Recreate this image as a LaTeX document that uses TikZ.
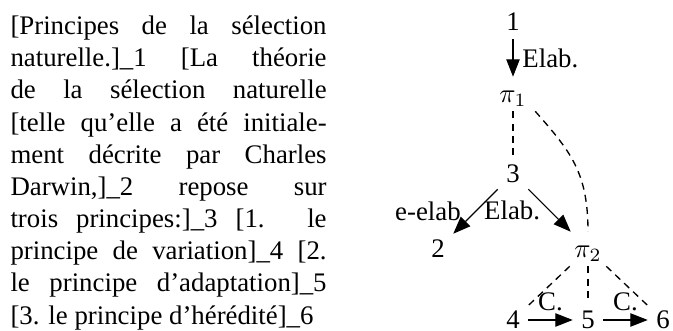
\documentclass[tikz,border=0pt]{standalone}
\usepackage{fontspec}
\setmainfont{Liberation Serif}
\usetikzlibrary{positioning,arrows.meta}

\begin{document}
\begin{tikzpicture}[x=0.373pt,y=0.373pt,font=\fontsize{10}{12}\selectfont,
  >={Triangle[length=6.5pt,width=5pt]},
  unit/.style={inner xsep=3pt,inner ysep=2pt,text height=1.6ex,text depth=.25ex},
  dashlink/.style={line width=0.5pt,dash pattern=on 2.6pt off 2pt}]
\useasboundingbox (0,0) rectangle (673,331);
% ---- segmented text, left column ----
\node[anchor=north west,inner sep=0,text width=117.9pt,align=justify] (txt) at (10,319.5)
  {\strut[Principes de la sélection\linebreak{}
   naturelle.]\_1 [La théorie\linebreak{}
   de la sélection naturelle\linebreak{}
   [telle qu'elle a été initiale-\linebreak{}
   ment décrite par Charles\linebreak{}
   Darwin,]\_2 repose sur\linebreak{}
   trois principes:]\_3 [1. le\linebreak{}
   principe de variation]\_4 [2.\linebreak{}
   le principe d'adaptation]\_5\linebreak{}
   [3. le principe d'hérédité]\_6};
% ---- discourse units, grid of 75 ----
\node[unit] (n1)  at (513,309) {1};
\node[unit] (pi1) at (513,237) {$\pi_1$};
\node[unit] (n3)  at (513,157) {3};
\node[unit] (n2)  at (438,82)  {2};
\node[unit] (pi2) at (588,82)  {$\pi_2$};
\node[unit] (n4)  at (513,11)  {4};
\node[unit] (n5)  at (588,11)  {5};
\node[unit] (n6)  at (663,11)  {6};
% ---- relations ----
\draw[->] (n1) -- node[right] {Elab.} (pi1);
\draw[dashlink] (pi1) -- (n3);
\draw[dashlink] (pi1.south east) .. controls +(35,-40) and +(0,60) .. (pi2.north);
\draw[->] (n3) -- node[left,xshift=-2pt] {e-elab} (n2);
\draw[->] (n3) -- node[left] {Elab.} (pi2);
% ---- pi_2 and its members ----
\draw[dashlink] (pi2) -- (n4);
\draw[dashlink] (pi2) -- (n5);
\draw[dashlink] (pi2) -- (n6);
\draw[->] (n4) -- node[above] {C.} (n5);
\draw[->] (n5) -- node[above] {C.} (n6);
\end{tikzpicture}
\end{document}
